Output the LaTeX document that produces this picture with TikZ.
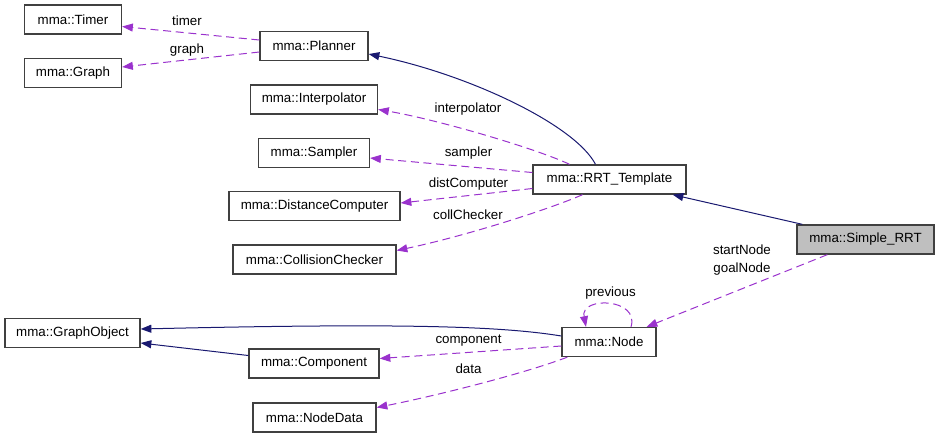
\documentclass[tikz,border=0pt]{standalone}
\usepackage{fontspec}
\setmainfont{Liberation Sans}
\usetikzlibrary{arrows.meta,calc}
\definecolor{inhc}{RGB}{25,25,112}
\definecolor{usec}{RGB}{154,50,205}
\definecolor{boxc}{RGB}{64,64,64}
\definecolor{focusc}{RGB}{191,191,191}
\tikzset{
  klass/.style   = {draw=boxc, line width=1pt, fill=white, minimum height=21.75pt,
                    inner sep=0pt, font=\fontsize{10}{12}\selectfont},
  focus/.style   = {klass, fill=focusc},
  inherit/.style = {-{Triangle[length=8pt,width=6pt]}, draw=inhc, line width=0.75pt},
  member/.style  = {-{Triangle[length=8pt,width=6pt]}, draw=usec, line width=0.75pt,
                    dash pattern=on 6pt off 3.5pt},
  lbl/.style     = {font=\fontsize{10}{13.5}\selectfont, inner sep=0pt, anchor=base, align=center},
}
\begin{document}
\begin{tikzpicture}[x=0.75pt, y=-0.75pt]
\useasboundingbox (0,0) rectangle (939,437);

% classes, pixel coordinates of the box centres
\node[klass, minimum width=72.75pt] (timer) at (73,19.5) {mma::Timer};
\node[klass, minimum width=72.75pt] (graph) at (73,73) {mma::Graph};
\node[klass, minimum width=81pt] (planner) at (314,46) {mma::Planner};
\node[klass, minimum width=95.25pt] (interp) at (314,99.5) {mma::Interpolator};
\node[klass, minimum width=83.25pt] (sampler) at (314,153) {mma::Sampler};
\node[klass, minimum width=128.25pt] (dist) at (314.5,206) {mma::DistanceComputer};
\node[klass, minimum width=122.25pt] (coll) at (314.5,259.5) {mma::CollisionChecker};
\node[klass, minimum width=114.75pt] (rrt) at (609.5,179.5) {mma::RRT\_Template};
\node[focus, minimum width=102.75pt] (simple) at (865.5,239.5) {mma::Simple\_RRT};
\node[klass, minimum width=101.25pt] (gobj) at (72.5,333) {mma::GraphObject};
\node[klass, minimum width=97.5pt] (comp) at (314,363.5) {mma::Component};
\node[klass, minimum width=92.25pt] (ndata) at (314.5,417.5) {mma::NodeData};
\node[klass, minimum width=70.5pt] (node) at (609,342) {mma::Node};

% inheritance
\draw[inherit] ($(rrt.north)+(-14,0)$) .. controls (575,125) and (470,75) .. ($(planner.east)+(0,8)$);
\draw[inherit] ($(simple.north west)+(6,0)$) -- ($(rrt.south east)+(-14,0)$);
\draw[inherit] ($(node.west)+(0,-6)$) .. controls (500,326) and (400,323) .. ($(gobj.east)+(0,-4)$);
\draw[inherit] ($(comp.west)+(0,-8)$) -- ($(gobj.east)+(0,10)$);

% usage
\draw[member] ($(planner.west)+(0,-6)$) -- ($(timer.east)+(0,7)$);
\draw[member] ($(planner.west)+(0,6)$) -- ($(graph.east)+(0,-6)$);
\draw[member] ($(rrt.north)+(-40,0)$) .. controls (540,150) and (440,120) .. ($(interp.east)+(0,10)$);
\draw[member] ($(rrt.west)+(0,-7)$) -- ($(sampler.east)+(0,5)$);
\draw[member] ($(rrt.west)+(0,9)$) -- ($(dist.east)+(0,-3)$);
\draw[member] ($(rrt.south)+(-27,0)$) .. controls (555,207) and (470,235) .. ($(coll.east)+(0,-9)$);
\draw[member] ($(simple.south west)+(31,0)$) -- ($(node.north east)+(-10,0)$);
\draw[member] ($(node.north)+(22,0)$) .. controls (640,298) and (580,296) .. ($(node.north)+(-23,0)$);
\draw[member] ($(node.west)+(0,4)$) -- ($(comp.east)+(0,-5)$);
\draw[member] ($(node.south west)+(6,0)$) .. controls (520,375) and (430,397) .. ($(ndata.east)+(0,-10)$);

% edge labels
\node[lbl] (ltimer) at (187,25) {timer};
\node[lbl] (lgraph) at (187,53) {graph};
\node[lbl] (linterp) at (468,112) {interpolator};
\node[lbl] (lsampler) at (468.5,156) {sampler};
\node[lbl] (ldist) at (468.5,187) {distComputer};
\node[lbl] (lcoll) at (468,219) {collChecker};
\node[lbl] (lends) at (742,272) {startNode\\goalNode};
\node[lbl] (lprev) at (610.5,296) {previous};
\node[lbl] (lcomp) at (468.5,343) {component};
\node[lbl] (ldata) at (468.5,373) {data};

\end{tikzpicture}
\end{document}
